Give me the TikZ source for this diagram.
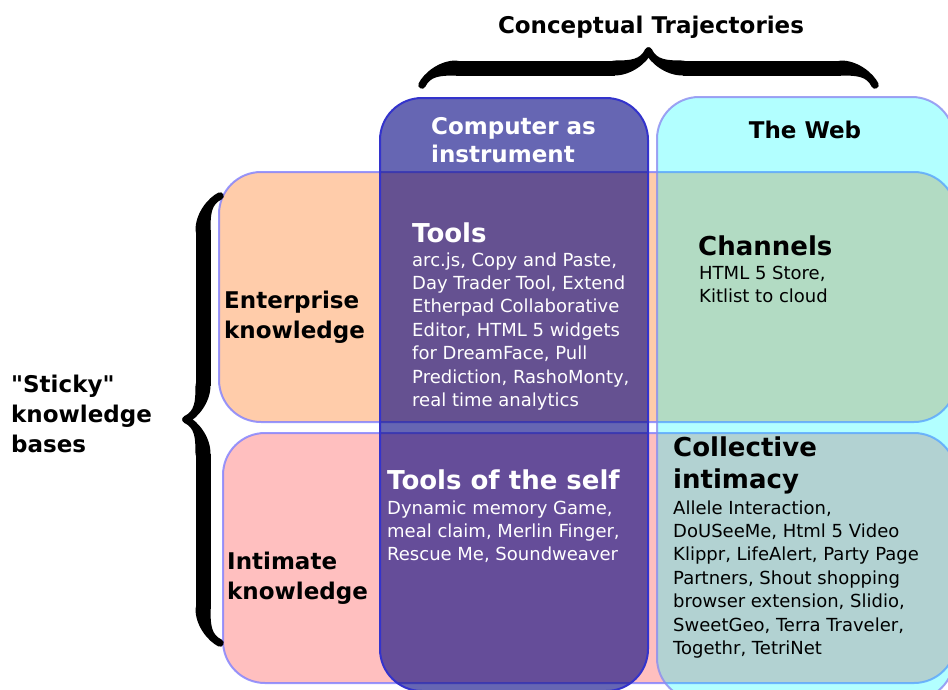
\documentclass[tikz,border=0pt]{standalone}
\usepackage{fontspec}
\setmainfont{DejaVu Sans}
\usetikzlibrary{decorations.pathreplacing, calligraphy}
\definecolor{rowborder}{RGB}{128,128,255}
\definecolor{enterprisefill}{RGB}{255,153,85}
\definecolor{intimatefill}{RGB}{255,128,128}
\definecolor{instrfill}{RGB}{0,0,128}
\definecolor{instrborder}{RGB}{51,51,204}
\definecolor{webfill}{RGB}{0,255,255}
\definecolor{webborder}{RGB}{140,140,240}
\newcommand{\dquote}{\XeTeXglyph\XeTeXcharglyph"22\relax}

\begin{document}
\begin{tikzpicture}[x=1pt,y=-1pt,
    rowbox/.style={rounded corners=42pt, draw=rowborder, draw opacity=0.8, line width=2pt, fill opacity=0.5},
    colbox/.style={rounded corners=42pt, line width=2pt},
    headtxt/.style={font=\fontsize{26}{32}\selectfont\bfseries, inner sep=0pt, anchor=base west, align=left},
    bodytxt/.style={font=\fontsize{18}{23.4}\selectfont, inner sep=0pt, anchor=base west, align=left},
    labeltxt/.style={font=\fontsize{23}{30}\selectfont\bfseries, inner sep=0pt, anchor=base west, align=left},
    bracemark/.style={decorate, decoration={calligraphic brace, amplitude=34pt}, line width=15pt}]
    \useasboundingbox (0,0) rectangle (948,689);
    \clip (0,0) rectangle (948,689);

    % Knowledge rows
    \draw[rowbox, fill=enterprisefill] (219,172) rectangle (956,422);
    \draw[rowbox, fill=intimatefill] (223,433) rectangle (956,683);

    % Trajectory columns
    \draw[colbox, fill=webfill, fill opacity=0.3, draw=webborder, draw opacity=0.8] (657,97) rectangle (954,700);
    \draw[colbox, fill=instrfill, fill opacity=0.6, draw=instrborder] (380,98) rectangle (648,691);

    % Braces
    \draw[bracemark] (422,85) -- (875,85);
    \draw[bracemark] (220,643) -- (220,196);

    % Titles (base = last line)
    \node[labeltxt, anchor=base] (traj) at (651,33) {Conceptual Trajectories};
    \node[labeltxt, white, font=\fontsize{23}{28}\selectfont\bfseries] (instr) at (431,162) {Computer as\\instrument};
    \node[labeltxt, anchor=base] (web) at (805,138) {The Web};
    \node[labeltxt] (sticky) at (11,452) {\dquote Sticky\dquote\\knowledge\\bases};
    \node[labeltxt] (enterprise) at (224,338) {Enterprise\\knowledge};
    \node[labeltxt] (intimate) at (227,599) {Intimate\\knowledge};

    % Cells
    \node[headtxt, white] (tools) at (412,242) {Tools};
    \node[bodytxt, white] (toolslist) at (412,406.4) {arc.js, Copy and Paste,\\Day Trader Tool, Extend\\Etherpad Collaborative\\Editor, HTML 5 widgets\\for DreamFace, Pull\\Prediction, RashoMonty,\\real time analytics};
    \node[headtxt] (channels) at (698,255) {Channels};
    \node[bodytxt] (channelslist) at (699,302.4) {HTML 5 Store,\\Kitlist to cloud};
    \node[headtxt, white] (self) at (387,489) {Tools of the self};
    \node[bodytxt, white] (selflist) at (387,560.8) {Dynamic memory Game,\\meal claim, Merlin Finger,\\Rescue Me, Soundweaver};
    \node[headtxt] (collective) at (673,488) {Collective\\intimacy};
    \node[bodytxt] (collectivelist) at (673,654.4) {Allele Interaction,\\DoUSeeMe, Html 5 Video\\Klippr, LifeAlert, Party Page\\Partners, Shout shopping\\browser extension, Slidio,\\SweetGeo, Terra Traveler,\\Togethr, TetriNet};
\end{tikzpicture}
\end{document}
